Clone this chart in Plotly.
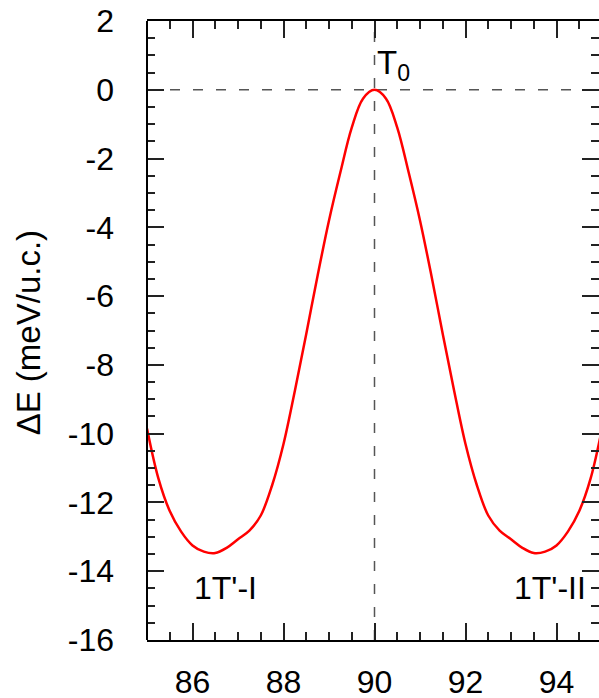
import plotly.graph_objects as go

# Left half of the energy profile (symmetric about 90 degrees)
angle_left = [85.0, 85.25, 85.5, 85.75, 86.0, 86.25, 86.5, 86.75, 87.0, 87.25, 87.5,
              87.75, 88.0, 88.25, 88.5, 88.75, 89.0, 89.25, 89.5, 89.75, 90.0]
energy_left = [-9.85, -11.3, -12.25, -12.85, -13.25, -13.43, -13.47, -13.32, -13.07, -12.82, -12.38,
               -11.5, -10.3, -8.75, -7.1, -5.4, -3.8, -2.4, -1.1, -0.25, 0.0]

angles = angle_left + [180 - a for a in reversed(angle_left[:-1])]
energies = energy_left + list(reversed(energy_left[:-1]))

x_ticks = [86, 88, 90, 92, 94]
y_ticks = [2, 0, -2, -4, -6, -8, -10, -12, -14, -16]

FONT = "Liberation Sans, Arial, Helvetica, sans-serif"

fig = go.Figure()
fig.add_trace(go.Scatter(x=angles, y=energies, mode="lines",
                         line=dict(color="#ff0000", width=2.5, shape="spline", smoothing=1.0),
                         hoverinfo="skip", showlegend=False))

W, H = 599, 698
px_per_unit = 45.5
left_m = 147
plot_w = W - left_m
x_max = 85 + plot_w / px_per_unit

fig.update_layout(
    width=W, height=H,
    margin=dict(l=left_m, r=0, t=21, b=58),
    paper_bgcolor="white", plot_bgcolor="white",
    font=dict(family=FONT, size=32, color="black"),
    showlegend=False,
    xaxis=dict(range=[85, x_max], tickvals=x_ticks, ticktext=[str(v) for v in x_ticks],
               ticks="inside", ticklen=17, tickwidth=1.5, tickcolor="#222",
               showline=True, linecolor="black", linewidth=2, mirror="ticks",
               showgrid=False, zeroline=False, ticklabelstandoff=13, automargin=False,
               ticklabeloverflow="allow",
               minor=dict(dtick=0.5, tick0=0, ticks="inside", ticklen=8, tickwidth=1.5,
                          tickcolor="#222", showgrid=False),
               tickfont=dict(size=32)),
    yaxis=dict(range=[-16, 2], tickvals=y_ticks, ticktext=[str(v) for v in y_ticks],
               ticks="inside", ticklen=17, tickwidth=1.5, tickcolor="#222",
               showline=False, mirror="ticks",
               showgrid=False, zeroline=False, ticklabelstandoff=32, automargin=False,
               ticklabeloverflow="allow",
               minor=dict(dtick=0.5, tick0=0, ticks="inside", ticklen=8, tickwidth=1.5,
                          tickcolor="#222", showgrid=False),
               tickfont=dict(size=32)),
)

# y-axis title as rotated text
fig.add_annotation(xref="paper", yref="paper", x=(28 - left_m) / plot_w, y=0.497,
                   text="ΔE (meV/u.c.)", textangle=-90, showarrow=False,
                   xanchor="center", yanchor="middle", font=dict(size=33))

# left spine
fig.add_shape(type="line", xref="x domain", yref="y domain", x0=0, x1=0, y0=0, y1=1,
              line=dict(color="black", width=2), layer="above")
# dashed reference lines
fig.add_shape(type="line", xref="x domain", yref="y", x0=0, x1=1, y0=0, y1=0,
              line=dict(color="#555", width=1.5, dash="10px,13px"), layer="below")
fig.add_shape(type="line", xref="x", yref="y domain", x0=90, x1=90, y0=0, y1=1,
              line=dict(color="#555", width=1.5, dash="10px,13px"), layer="below")

fig.add_annotation(x=90.02, y=0.73, text="T<sub>0</sub>", showarrow=False,
                   xanchor="left", yanchor="middle", font=dict(size=33))
fig.add_annotation(x=86.72, y=-14.5, text="1T'-I", showarrow=False,
                   xanchor="center", yanchor="middle", font=dict(size=32))
fig.add_annotation(x=93.85, y=-14.5, text="1T'-II", showarrow=False,
                   xanchor="center", yanchor="middle", font=dict(size=32))

fig.write_html("out.html", config={"displayModeBar": False},
               post_script="document.body.style.margin='0px';document.body.style.overflow='hidden';")
